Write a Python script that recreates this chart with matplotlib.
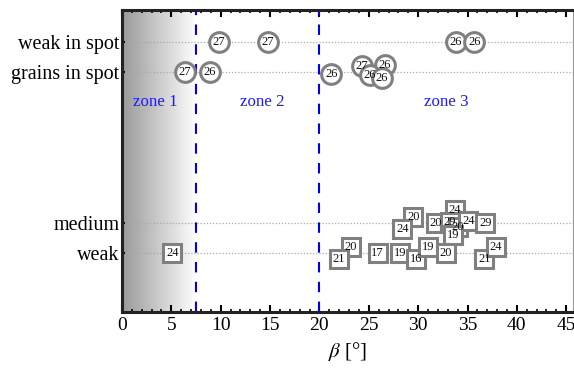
import numpy as np
import matplotlib
matplotlib.use("Agg")
import matplotlib.pyplot as plt
from matplotlib.colors import LinearSegmentedColormap

plt.rcParams['font.family'] = ['Liberation Serif', 'DejaVu Serif']
plt.rcParams['mathtext.fontset'] = 'stix'

# Category axis
category_labels = ["weak", "medium", "grains in spot", "weak in spot"]
category_positions = [1, 2, 7, 8]

# Circle markers (spot-related observations)
circle_x = [9.8, 14.8, 33.8, 35.7, 6.4, 8.9, 21.2, 24.3, 26.6, 25.1, 26.3]
circle_y = [8.0, 8.0, 8.0, 8.0, 7.0, 7.0, 6.95, 7.21, 7.24, 6.9, 6.8]
circle_labels = ["27", "27", "26", "26", "27", "26", "26", "27", "26", "26", "26"]

# Square markers (medium / weak)
square_x = [33.7, 29.5, 28.4, 31.8, 33.2, 34.0, 35.1, 36.8, 33.5,
            23.2, 22.0, 25.9, 28.2, 29.8, 31.0, 32.8, 36.7, 37.9, 5.1]
square_y = [2.43, 2.2, 1.79, 1.99, 2.04, 1.87, 2.06, 2.0, 1.6,
            1.19, 0.79, 0.99, 1.01, 0.79, 1.21, 0.99, 0.79, 1.19, 1.0]
square_labels = ["24", "20", "24", "20", "29", "20", "24", "29", "19",
                 "20", "21", "17", "19", "16", "19", "20", "21", "24", "24"]

zone_bounds = [7.5, 20]
zone_names = ["zone 1", "zone 2", "zone 3"]
zone_label_x = [3.35, 14.2, 32.8]
zone_label_y = 6.0

xlim = (0, 45.7)
ylim = (-0.96, 9.06)

fig = plt.figure(figsize=(5.74, 3.70), dpi=100)
ax = fig.add_axes([0.2125, 0.157, 0.786, 0.816])

# gradient zone 1
cmap = LinearSegmentedColormap.from_list("g", [(0.6, 0.6, 0.6), (1, 1, 1)])
grad = np.linspace(0, 1, 256).reshape(1, -1)
ax.imshow(grad, extent=[0, zone_bounds[0], ylim[0], ylim[1]], cmap=cmap,
          aspect='auto', zorder=0, interpolation='bilinear')

for yp in category_positions:
    ax.axhline(yp, color='#aaaaaa', lw=0.9, ls=(0, (1, 1.5)), zorder=1)

for xb in zone_bounds:
    ax.axvline(xb, color='#0000ee', lw=1.5, ls=(0, (5, 4.5)), zorder=2)

for name, zx in zip(zone_names, zone_label_x):
    ax.text(zx, zone_label_y, name, color='#1a1aff', fontsize=12.2,
            ha='center', va='center', zorder=3)

ax.plot(square_x, square_y, ls='none', marker='s', ms=12.8, mfc='white',
        mec='#808080', mew=2.2, zorder=4)
for x, y, t in zip(square_x, square_y, square_labels):
    ax.text(x, y, t, fontsize=9, ha='center', va='center', color='#111111', zorder=5)

ax.plot(circle_x, circle_y, ls='none', marker='o', ms=14.2, mfc='white',
        mec='#808080', mew=2.2, zorder=4)
for x, y, t in zip(circle_x, circle_y, circle_labels):
    ax.text(x, y, t, fontsize=9, ha='center', va='center', color='#111111', zorder=5)

ax.set_xlim(*xlim)
ax.set_ylim(*ylim)
ax.set_yticks(category_positions)
ax.set_yticklabels(category_labels, fontsize=14.5)
ax.set_xticks(np.arange(0, 46, 5))
ax.set_xticks(np.arange(0, 46, 1), minor=True)
ax.tick_params(axis='x', which='major', direction='in', length=5, width=1.5,
               top=True, labelsize=14, pad=4)
ax.tick_params(axis='x', which='minor', direction='in', length=2.5, width=1.2, top=True)
ax.tick_params(axis='y', direction='in', length=2, width=1.5, pad=2)
ax.set_xlabel(r"$\beta$ [°]", fontsize=15, labelpad=4)

for s in ['left', 'bottom', 'top']:
    ax.spines[s].set_linewidth(2.2)
    ax.spines[s].set_color('#222222')
ax.spines['right'].set_linewidth(0.8)
ax.spines['right'].set_color('#999999')

fig.savefig("out.png", dpi=100)
